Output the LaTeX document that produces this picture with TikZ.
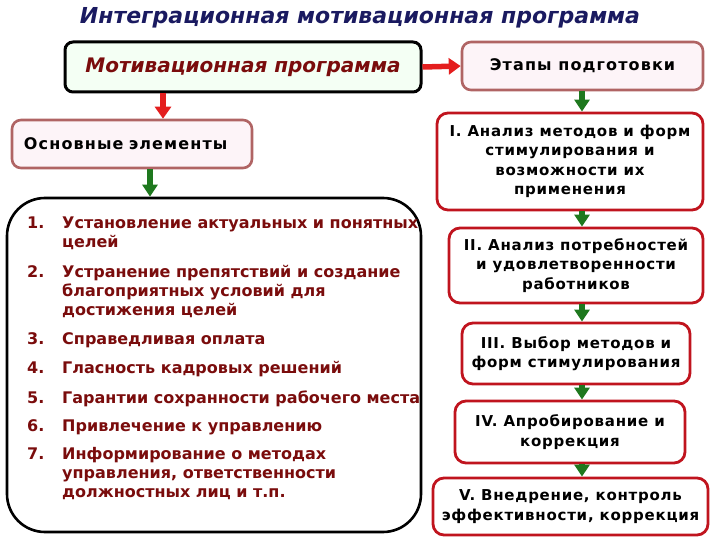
\documentclass[tikz,border=0pt]{standalone}
\usepackage{fontspec}
\setmainfont{DejaVu Sans}
\usetikzlibrary{arrows.meta}
\definecolor{navy}{HTML}{1A1A60}
\definecolor{dred}{HTML}{7A0C0C}
\definecolor{brownb}{HTML}{B06464}
\definecolor{pinkf}{HTML}{FDF4F8}
\definecolor{greenf}{HTML}{F4FFF4}
\definecolor{crim}{HTML}{C0141E}
\definecolor{arrred}{HTML}{E41E1E}
\definecolor{arrgreen}{HTML}{1E781E}
\tikzset{
  stagebox/.style={draw=crim, line width=2.8pt, fill=white, rounded corners=11pt, align=center, inner sep=2pt,
     font=\bfseries\fontsize{15}{19.5}\selectfont\addfontfeatures{LetterSpace=5}},
  headbox/.style={draw=brownb, line width=2.6pt, fill=pinkf, rounded corners=9pt, inner sep=2pt,
     font=\bfseries\fontsize{16}{19}\selectfont\addfontfeatures{LetterSpace=7}},
  redarr/.style={draw=arrred, line width=5.5pt, -{Triangle[width=16pt,length=12pt]}},
  greenarr/.style={draw=arrgreen, line width=6pt, -{Triangle[width=15pt,length=12pt]}},
  itemtxt/.style={anchor=base west, inner sep=0pt, text=dred, font=\bfseries\fontsize{16}{19}\selectfont},
}
\begin{document}
\begin{tikzpicture}[x=1pt,y=-1pt]
\useasboundingbox (0,0) rectangle (720,540);
% title
\node[text=navy, font=\bfseries\itshape\fontsize{22}{26}\selectfont] (title) at (360,18) {Интеграционная мотивационная программа};
% top boxes
\node[draw=black, line width=3pt, fill=greenf, rounded corners=8pt, minimum width=356pt, minimum height=50pt,
      text=dred, font=\bfseries\itshape\fontsize{20}{24}\selectfont] (mot) at (243,67) {Мотивационная программа};
\node[headbox, minimum width=241pt, minimum height=48pt] (etap) at (582.5,66) {Этапы подготовки};
\node[headbox, minimum width=240pt, minimum height=48pt, text width=226pt, align=left] (osn) at (132,144) {\hspace*{5pt}Основные элементы};
% list box
\node[draw=black, line width=2.6pt, rounded corners=38pt, minimum width=414pt, minimum height=334pt, inner sep=0pt] (list) at (214,365) {};
% items
\node[itemtxt] (n1) at (27,229) {1.};
\node[itemtxt] (t1) at (62,229) {\begin{tabular}[t]{@{}l@{}}Установление актуальных и понятных\\целей\end{tabular}};
\node[itemtxt] (n2) at (27,277) {2.};
\node[itemtxt] (t2) at (62,277) {\begin{tabular}[t]{@{}l@{}}Устранение препятствий и создание\\благоприятных условий для\\достижения целей\end{tabular}};
\node[itemtxt] (n3) at (27,344) {3.};
\node[itemtxt] (t3) at (62,344) {Справедливая оплата};
\node[itemtxt] (n4) at (27,373) {4.};
\node[itemtxt] (t4) at (62,373) {Гласность кадровых решений};
\node[itemtxt] (n5) at (27,403) {5.};
\node[itemtxt] (t5) at (62,403) {Гарантии сохранности рабочего места};
\node[itemtxt] (n6) at (27,431) {6.};
\node[itemtxt] (t6) at (62,431) {Привлечение к управлению};
\node[itemtxt] (n7) at (27,459) {7.};
\node[itemtxt] (t7) at (62,459) {\begin{tabular}[t]{@{}l@{}}Информирование о методах\\управления, ответственности\\должностных лиц и т.п.\end{tabular}};
% stage boxes
\node[stagebox, minimum width=266pt, minimum height=97pt] (s1) at (570,161.5) {I. Анализ методов и форм\\стимулирования и\\возможности их\\применения};
\node[stagebox, minimum width=254pt, minimum height=75pt] (s2) at (576,265.5) {II. Анализ потребностей\\и удовлетворенности\\работников};
\node[stagebox, minimum width=228pt, minimum height=61pt] (s3) at (576,353.5) {III. Выбор методов и\\форм стимулирования};
\node[stagebox, minimum width=230pt, minimum height=62pt] (s4) at (570,432) {IV. Апробирование и\\коррекция};
\node[stagebox, minimum width=275pt, minimum height=57pt] (s5) at (570.5,506.5) {V. Внедрение, контроль\\эффективности, коррекция};
% arrows
\coordinate (ax1) at (163,0);
\coordinate (ax2) at (150,0);
\coordinate (ax3) at (582,0);
\draw[redarr] (mot.east) -- (etap.west);
\draw[redarr] (mot.south -| ax1) -- (osn.north -| ax1);
\draw[greenarr] (osn.south -| ax2) -- (list.north -| ax2);
\draw[greenarr] (etap.south -| ax3) -- (s1.north -| ax3);
\draw[greenarr] (s1.south -| ax3) -- (s2.north -| ax3);
\draw[greenarr] (s2.south -| ax3) -- (s3.north -| ax3);
\draw[greenarr] (s3.south -| ax3) -- (s4.north -| ax3);
\draw[greenarr] (s4.south -| ax3) -- (s5.north -| ax3);
\end{tikzpicture}
\end{document}
